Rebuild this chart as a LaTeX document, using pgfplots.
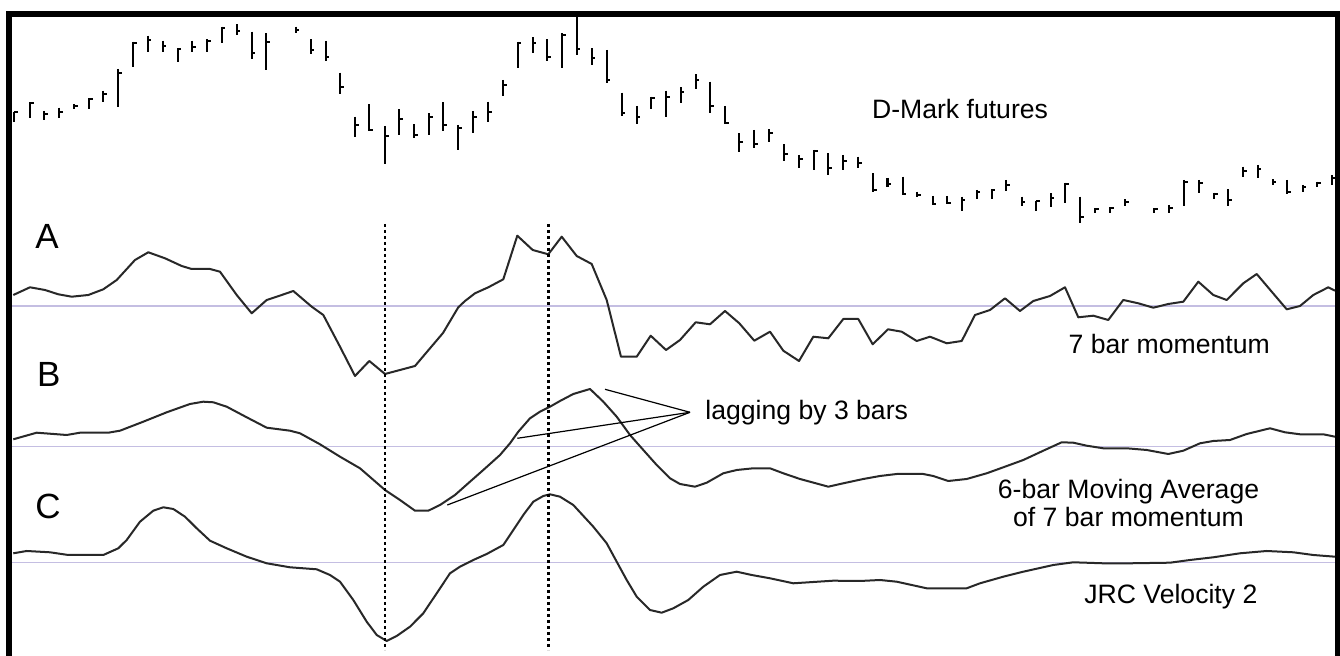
\documentclass[border=0pt]{standalone}
\usepackage{pgfplots}
\pgfplotsset{compat=1.18}
\usepackage{pgfplotstable}
\usepackage{fontspec}
\setmainfont{Liberation Sans}
\definecolor{refl}{RGB}{196,190,226}
\definecolor{ln}{RGB}{40,40,40}

\pgfplotstableread{
x top bot cl
14 111.7 121.7 112.3
30 102.3 118.3 103
44.3 111 120 114.3
59.3 107.7 118.3 112.3
74.3 104 109 105.7
89 98.3 109 99
103.3 90.7 101.7 94
118.3 69 107.3 73.3
133.3 41.7 66.7 43.3
147.7 35.7 51.7 40
162.7 40.7 51.7 46
177.7 48.3 61.7 49
192.3 40.7 51.7 46.7
207.3 39.3 51.7 41
221.7 26.7 42.7 28.3
236.7 24.3 35 30.7
251.7 31.7 59 53.3
266 33.3 70 41.7
295.7 26.7 33.3 30
310.7 39.3 54 50
325.7 41 60.7 57.3
340 72.7 94.3 87.3
355 116.7 136.7 125
369.3 104.3 131 130
385 126 164.3 136
399.3 109.3 135 119
414.3 124.3 138.3 135
429 113.3 135 117.3
443.3 102.3 131 125
458.3 125 150 128.3
473.3 111 132.7 116.7
488.3 101.7 121.7 111.7
503.3 80 96 85
517.7 41.7 68.3 42.7
532.7 37.3 53.3 43.3
547.3 39.3 61 56.7
562.3 33.3 68.3 35
576.7 16.7 55 49.3
591.7 48.3 65 58.3
606.7 50 82.7 80
621.7 92.7 116 113.3
636.7 106 124 116.7
651 96.7 109 97.7
666 90.7 116.7 96.7
680.7 87.3 103.3 91.7
695.7 74.3 89 80
710 81.7 112.7 106
725 106 124 122.7
739.3 133.3 151.7 141.7
754.3 130 147.7 144.3
769.3 129.3 142.3 132.7
784.3 144.3 161 154.3
799.3 155 167.7 159
814 150 170 151
828.3 153.3 175 168.3
843.3 155 170 161
858.3 156.7 167.7 162.7
873.3 173.3 191.7 190
887.5 178 187 184
902.7 176.7 195 194.3
917.3 191.7 197.3 195
932.7 196 205 204
947.3 196 204 203.3
961.7 196.7 210.7 200
976.7 190 199.3 192.3
991.7 189.3 199.3 190
1006 180 190.7 185
1021.7 196.7 206 201.7
1036 200.7 210.7 201.3
1050.7 193.3 206.7 198.3
1065 182.7 203.3 184
1080 196.7 222.7 216.7
1095 208.3 213.3 209.3
1110 207.3 213.3 208.3
1125 199.3 206 201.7
1154 208.3 213.3 209.3
1169.3 205 213.3 208.3
1184 180 206 181.7
1199 180 192.7 183.3
1214 192.7 199.3 194
1228.3 189.3 206 200
1243.3 166.7 177.3 170.7
1257.7 165 178.3 169.3
1272.7 179.3 185 181.7
1287.3 180 194 192.3
1302.7 185 191.7 186.7
1317.3 181.7 187.3 182.7
1331.7 175 185 178.3
}\bars

\begin{document}
\begin{tikzpicture}
\begin{axis}[
  scale only axis, width=670pt, height=328pt,
  xmin=0, xmax=1340, ymin=0, ymax=656, y dir=reverse,
  hide axis, clip=true,
]
% background and frame
\path[fill=white] (axis cs:0,0) rectangle (axis cs:1340,656);
\fill[black] (axis cs:6.5,11.5) rectangle (axis cs:11.8,656);
\fill[black] (axis cs:6.5,11.5) rectangle (axis cs:1340,16.8);
\fill[black] (axis cs:1335,11.5) rectangle (axis cs:1340,656);

% reference lines
\addplot[refl, line width=0.7pt] coordinates {(12,306) (1335,306)};
\addplot[refl, line width=0.7pt] coordinates {(12,446.7) (1335,446.7)};
\addplot[refl, line width=0.7pt] coordinates {(12,562.7) (1335,562.7)};

% price bars
\addplot[black, line width=1.1pt, quiver={u=0, v=\thisrow{bot}-\thisrow{top}}] table[x=x, y=top]{\bars};
\addplot[black, line width=1.1pt, quiver={u=3.5, v=0}] table[x=x, y=cl]{\bars};

% A: 7 bar momentum
\addplot[ln, line width=1pt, line join=round] coordinates {
(13.3,295) (30,287.3) (45,290) (58.3,294.3) (71.7,296.7) (88.3,295) (103.3,289.3) (116.7,280) (135,260) (148.3,252.3) (165,258.3) (181.7,266) (191.7,269) (210,269) (220,271.7) (236.7,295) (251.7,313.3) (266.7,300) (281.7,295) (293.3,291) (311.7,306.7) (323.3,315) (340,346.7) (355,376) (369.3,361) (385,374) (400,370) (415,366) (430,348.3) (443,333)
(458.3,307.3) (465,301) (475,293.3) (488.3,287.3) (503.3,279.3) (517.3,235.7) (532.7,250) (548.3,254.3) (561.7,236.7) (576.7,256) (591.7,264) (606.7,300) (621,356.7) (636.7,356.7) (650.7,335.7) (666,350) (680,340) (695.7,322.3) (710,324.3) (725,311) (739.3,323.3) (754.3,340.7) (770,331.7) (783.3,350.7) (799,361) (813.3,336.7) (828.3,338.3) (843.3,319) (858.3,319) (872.7,344.3)
(888,329.3) (901.7,331.7) (916.7,341) (930,336.7) (946.7,343.3) (961.7,341) (975,315) (990,310) (1005,298.3) (1020,311) (1033.3,301) (1050,296) (1065,287.3) (1078.3,317.3) (1093.3,315.7) (1108.3,320) (1123.3,300) (1138.3,303.3) (1153.3,307.7) (1168.3,304) (1183.3,301.7) (1198.3,281.7) (1213.3,295) (1226.7,300) (1243.3,283.3) (1256.7,274) (1271.7,291.7) (1286.7,309.3) (1300,306) (1313.3,295) (1328.3,287.3) (1335,290.7)
};

% B: 6-bar moving average
\addplot[ln, line width=1pt, line join=round] coordinates {
(13.3,439.3) (36.7,432.7) (66.7,435) (80,432.7) (108.3,432.7) (120,430.7) (143.3,421.7) (166.7,412.3) (190,404) (203.3,401.7) (213.3,402.3) (226.7,406.7) (246.7,417.3) (266.7,427.7) (290,430.7) (300,433.3) (320,444.3) (340,456.7) (360,468.3) (385,490) (400,500) (415,510.7) (428.3,510.7) (440,505) (455,495) (470,481.7) (483.3,470) (500,455) (510,443.3) (518.3,431.7) (530,418.3) (540,411.7) (550,406.7) (560,401) (573.3,394) (590,389) (603.3,401.7) (616.7,416.7) (630,435) (643.3,450) (656.7,465) (670,478.3) (680,484) (695,486.7) (706.7,482.7) (723.3,473.3) (736.7,470) (753.3,468.3) (770,468.3) (783.3,473.3) (800,479) (828.3,486.7) (843.3,483.3) (863.3,479) (880,476) (896.7,474) (923.3,474) (933.3,476) (948.3,481) (966.7,479) (986.7,473.3) (1003.3,467.3) (1023.3,460) (1043.3,450.7) (1061.7,442.3) (1073.3,442.7) (1086.7,445.7) (1103.3,448.3) (1126.7,448.3) (1146.7,450) (1168.3,454) (1183.3,450.7) (1200,443.3) (1213.3,441) (1230,440) (1246.7,434) (1270,428.3) (1285,432.3) (1300,434.3) (1323.3,434.3) (1335,436.7)
};

% C: JRC Velocity 2
\addplot[ln, line width=1pt, line join=round] coordinates {
(13.3,553.3) (26.7,551) (50,552.3) (68.3,555) (103.3,555) (118.3,548.3) (126.7,540) (140,521.7) (153.3,510.7) (163.3,507.3) (173.3,509) (185,516.7) (196.7,528.3) (210,540.7) (226.7,548.3) (246.7,556.7) (266.7,563.3) (290,567.3) (316.7,569.3) (330,575) (340,581.7) (353.3,600) (366.7,621.7) (376.7,635) (386.7,641) (396.7,636) (410,626.7) (423.3,613.3) (436.7,593.3) (450,573.3) (460,566.7) (473.3,560) (486.7,554) (503.3,545) (513.3,530) (523.3,515) (533.3,501.7) (543.3,496) (550,494.3) (560,496.7) (573.3,505) (593.3,526.7) (606.7,543.3) (616.7,561.7) (626.7,580) (636.7,596.7) (650,610) (661.7,612.7) (673.3,608.3) (688.3,600) (703.3,586.7) (720,575) (736.7,571.7) (751.7,575) (770,578.3) (793.3,583.3) (833.3,580.7) (860,581) (880,580) (896.7,581.7) (926.7,588.3) (966.7,588.3) (980,583.3) (1003.3,576.7) (1023.3,571.7) (1053.3,565) (1073.3,562.3) (1103.3,563.3) (1130,563.3) (1170,562.7) (1190,560) (1213.3,557.3) (1240,553.3) (1266.7,551) (1293.3,552.3) (1313.3,555) (1335,556.7)
};

% dotted verticals
\addplot[black, line width=1.3pt, dash pattern=on 1.4pt off 1.6pt] coordinates {(385,224) (385,650)};
\addplot[black, line width=1.3pt, dash pattern=on 1.4pt off 1.6pt] coordinates {(548.3,224) (548.3,650)};

% annotation lines
\addplot[black, line width=0.6pt] coordinates {(605,389.3) (690,412.3)};
\addplot[black, line width=0.6pt] coordinates {(517.3,438.3) (690,412.3)};
\addplot[black, line width=0.6pt] coordinates {(447.3,505) (690,412.3)};

% texts
\node[anchor=base west, inner sep=0pt, font=\fontsize{13.3}{16}\selectfont] at (axis cs:871.7,118.3) {D-Mark futures};
\node[anchor=base west, inner sep=0pt, font=\fontsize{13.3}{16}\selectfont] at (axis cs:1068.3,353.3) {7 bar momentum};
\node[anchor=base west, inner sep=0pt, font=\fontsize{13.3}{16}\selectfont] at (axis cs:705,420) {lagging by 3 bars};
\node[anchor=base, inner sep=0pt, font=\fontsize{13.3}{16}\selectfont] at (axis cs:1128.5,498.3) {6-bar Moving Average};
\node[anchor=base, inner sep=0pt, font=\fontsize{13.3}{16}\selectfont] at (axis cs:1128.5,526.7) {of 7 bar momentum};
\node[anchor=base west, inner sep=0pt, font=\fontsize{13.3}{16}\selectfont] at (axis cs:1084,603.3) {JRC Velocity 2};
\node[anchor=base west, inner sep=0pt, font=\fontsize{17.5}{20}\selectfont] at (axis cs:35,248.3) {A};
\node[anchor=base west, inner sep=0pt, font=\fontsize{17.5}{20}\selectfont] at (axis cs:36.7,386.7) {B};
\node[anchor=base west, inner sep=0pt, font=\fontsize{17.5}{20}\selectfont] at (axis cs:35,518.3) {C};
\end{axis}
\end{tikzpicture}
\end{document}
